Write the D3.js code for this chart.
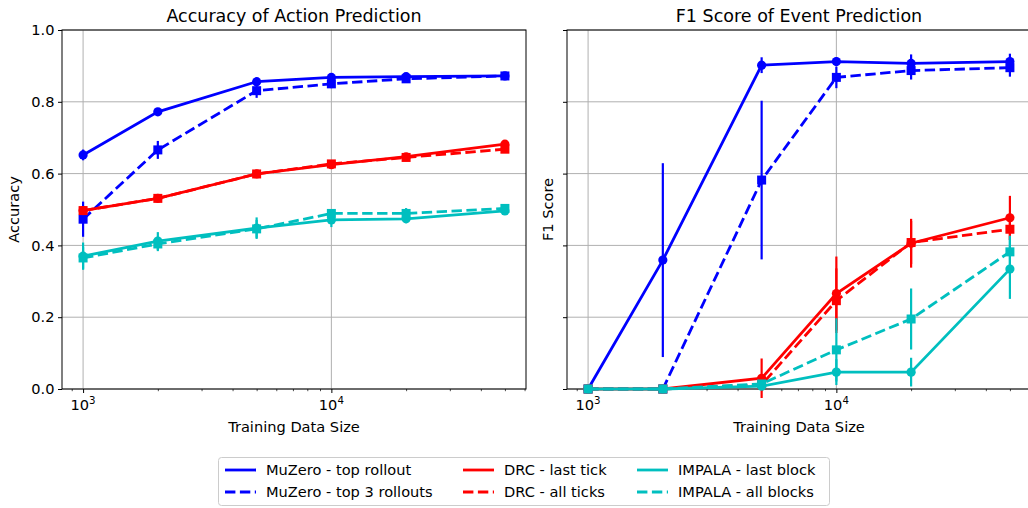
<!DOCTYPE html>
<html>
<head>
<meta charset="utf-8">
<script src="https://cdn.jsdelivr.net/npm/d3@7"></script>
<style>
  body { margin: 0; background: #fff; }
  svg { display: block; font-family: "DejaVu Sans", sans-serif; }
</style>
</head>
<body>
<svg id="chart" width="1028" height="508"></svg>
<script>
// ---------------- data ----------------
const sizes = [1000, 2000, 5000, 10000, 20000, 50000];
const yTicks = [0.0, 0.2, 0.4, 0.6, 0.8, 1.0];
const xMajorTicks = [1000, 10000];

// Accuracy of Action Prediction
const accMuzeroTop = [0.652, 0.772, 0.856, 0.868, 0.870, 0.872];
const accMuzeroTopErr = [0.015, 0.008, 0.010, 0.006, 0.006, 0.005];
const accMuzeroTop3 = [0.473, 0.666, 0.831, 0.850, 0.864, 0.872];
const accMuzeroTop3Err = [0.049, 0.025, 0.020, 0.012, 0.008, 0.006];
const accDrcLast = [0.497, 0.531, 0.599, 0.625, 0.647, 0.682];
const accDrcLastErr = [0.012, 0.010, 0.008, 0.008, 0.008, 0.008];
const accDrcAll = [0.497, 0.531, 0.599, 0.627, 0.645, 0.668];
const accDrcAllErr = [0.012, 0.010, 0.008, 0.008, 0.008, 0.008];
const accImpalaLast = [0.370, 0.412, 0.448, 0.471, 0.474, 0.496];
const accImpalaLastErr = [0.038, 0.025, 0.030, 0.020, 0.012, 0.008];
const accImpalaAll = [0.365, 0.404, 0.446, 0.489, 0.489, 0.503];
const accImpalaAllErr = [0.030, 0.020, 0.025, 0.012, 0.015, 0.008];

// F1 Score of Event Prediction
const f1MuzeroTop = [0.000, 0.359, 0.902, 0.912, 0.907, 0.912];
const f1MuzeroTopErr = [0.000, 0.270, 0.022, 0.012, 0.025, 0.022];
const f1MuzeroTop3 = [0.000, 0.000, 0.582, 0.868, 0.887, 0.895];
const f1MuzeroTop3Err = [0.000, 0.000, 0.221, 0.030, 0.025, 0.025];
const f1DrcLast = [0.000, 0.000, 0.030, 0.266, 0.406, 0.477];
const f1DrcLastErr = [0.000, 0.000, 0.055, 0.103, 0.068, 0.061];
const f1DrcAll = [0.000, 0.000, 0.012, 0.246, 0.408, 0.445];
const f1DrcAllErr = [0.000, 0.000, 0.010, 0.090, 0.060, 0.030];
const f1ImpalaLast = [0.000, 0.000, 0.008, 0.047, 0.047, 0.334];
const f1ImpalaLastErr = [0.000, 0.000, 0.006, 0.036, 0.040, 0.083];
const f1ImpalaAll = [0.000, 0.000, 0.014, 0.109, 0.195, 0.382];
const f1ImpalaAllErr = [0.000, 0.000, 0.010, 0.088, 0.085, 0.045];

const seriesNames = ["MuZero - top rollout", "MuZero - top 3 rollouts", "DRC - last tick", "DRC - all ticks", "IMPALA - last block", "IMPALA - all blocks"];
const seriesColors = ["#0000ff", "#0000ff", "#ff0000", "#ff0000", "#00bfbf", "#00bfbf"];
const seriesDashed = [false, true, false, true, false, true];
const seriesMarkers = ["circle", "square", "circle", "square", "circle", "square"];

const panels = [
  { title: "Accuracy of Action Prediction", ylabel: "Accuracy", showYLabels: true,
    values: [accMuzeroTop, accMuzeroTop3, accDrcLast, accDrcAll, accImpalaLast, accImpalaAll],
    errors: [accMuzeroTopErr, accMuzeroTop3Err, accDrcLastErr, accDrcAllErr, accImpalaLastErr, accImpalaAllErr] },
  { title: "F1 Score of Event Prediction", ylabel: "F1 Score", showYLabels: false,
    values: [f1MuzeroTop, f1MuzeroTop3, f1DrcLast, f1DrcAll, f1ImpalaLast, f1ImpalaAll],
    errors: [f1MuzeroTopErr, f1MuzeroTop3Err, f1DrcLastErr, f1DrcAllErr, f1ImpalaLastErr, f1ImpalaAllErr] }
];

// ---------------- layout ----------------
const svg = d3.select("#chart");
const FS = 14.6;
const axTop = 30, axBottom = 389;
const axW = 464;
const axLefts = [62, 567];
const logLo = Math.log10(1000), logHi = Math.log10(50000);
const pad = (logHi - logLo) * 0.05;
const xDomain = [Math.pow(10, logLo - pad), Math.pow(10, logHi + pad)];
const LW = 2.8;
const dash = "10.4,4.5";

const minorTicks = [];
for (let e = 2; e <= 4; e++) for (let m = 2; m <= 9; m++) {
  const v = m * Math.pow(10, e);
  if (v >= xDomain[0] && v <= xDomain[1]) minorTicks.push(v);
}

panels.forEach((p, pi) => {
  const x0 = axLefts[pi];
  const x = d3.scaleLog().domain(xDomain).range([x0, x0 + axW]);
  const y = d3.scaleLinear().domain([0, 1]).range([axBottom, axTop]);
  const g = svg.append("g");

  // grid
  g.selectAll(".gy").data(yTicks).enter().append("line")
    .attr("x1", x0).attr("x2", x0 + axW)
    .attr("y1", d => y(d)).attr("y2", d => y(d))
    .attr("stroke", "#b0b0b0").attr("stroke-width", 1);
  g.selectAll(".gx").data(xMajorTicks).enter().append("line")
    .attr("x1", d => x(d)).attr("x2", d => x(d))
    .attr("y1", axTop).attr("y2", axBottom)
    .attr("stroke", "#b0b0b0").attr("stroke-width", 1);

  // axes
  const xAxis = d3.axisBottom(x).tickValues(xMajorTicks).tickSize(4).tickPadding(3.5).tickFormat("");
  const xg = g.append("g").attr("transform", `translate(0,${axBottom})`).call(xAxis);
  xg.select(".domain").remove();
  xg.selectAll("line").attr("stroke", "#000").attr("stroke-width", 1);
  xMajorTicks.forEach(t => {
    const txt = g.append("text").attr("x", x(t)).attr("y", axBottom + 21)
      .attr("text-anchor", "middle").attr("font-size", FS).attr("fill", "#000");
    txt.append("tspan").text("10");
    txt.append("tspan").text(String(Math.round(Math.log10(t)))).attr("font-size", FS * 0.7).attr("dy", -6);
  });
  const xMinor = d3.axisBottom(x).tickValues(minorTicks).tickSize(2.2).tickFormat("");
  const xmg = g.append("g").attr("transform", `translate(0,${axBottom})`).call(xMinor);
  xmg.select(".domain").remove();
  xmg.selectAll("line").attr("stroke", "#000").attr("stroke-width", 0.7);

  const yAxis = d3.axisLeft(y).tickValues(yTicks).tickSize(4).tickPadding(3.5)
    .tickFormat(p.showYLabels ? d3.format(".1f") : "");
  const yg = g.append("g").attr("transform", `translate(${x0},0)`).call(yAxis);
  yg.select(".domain").remove();
  yg.selectAll("line").attr("stroke", "#000").attr("stroke-width", 1);
  yg.selectAll("text").attr("font-size", FS).attr("font-family", "DejaVu Sans").attr("fill", "#000");

  // spines
  g.append("rect").attr("x", x0).attr("y", axTop).attr("width", axW).attr("height", axBottom - axTop)
    .attr("fill", "none").attr("stroke", "#000").attr("stroke-width", 1);

  // clip
  const clipId = "clip" + pi;
  svg.append("clipPath").attr("id", clipId).append("rect")
    .attr("x", x0 - 10).attr("y", axTop - 10).attr("width", axW + 20).attr("height", axBottom - axTop + 20);
  const plot = g.append("g").attr("clip-path", `url(#${clipId})`);

  p.values.forEach((vals, si) => {
    const col = seriesColors[si];
    const sg = plot.append("g");
    const pts = sizes.map((s, i) => ({ s, v: vals[i], e: p.errors[si][i] }));
    // error bars
    sg.selectAll(".eb").data(pts).enter().append("line")
      .attr("x1", d => x(d.s)).attr("x2", d => x(d.s))
      .attr("y1", d => y(d.v - d.e)).attr("y2", d => y(d.v + d.e))
      .attr("stroke", col).attr("stroke-width", 2.2);
    // line
    const line = d3.line().x(d => x(d.s)).y(d => y(d.v));
    sg.append("path").datum(pts).attr("d", line).attr("fill", "none")
      .attr("stroke", col).attr("stroke-width", LW)
      .attr("stroke-dasharray", seriesDashed[si] ? dash : null);
    // markers
    if (seriesMarkers[si] === "circle") {
      sg.selectAll(".mk").data(pts).enter().append("circle")
        .attr("cx", d => x(d.s)).attr("cy", d => y(d.v)).attr("r", 4.6).attr("fill", col);
    } else {
      sg.selectAll(".mk").data(pts).enter().append("rect")
        .attr("x", d => x(d.s) - 4.5).attr("y", d => y(d.v) - 4.5)
        .attr("width", 9).attr("height", 9).attr("fill", col);
    }
  });

  // titles/labels
  g.append("text").attr("x", x0 + axW / 2).attr("y", 22).attr("text-anchor", "middle")
    .attr("font-size", 17.5).attr("fill", "#000").text(p.title);
  g.append("text").attr("x", x0 + axW / 2).attr("y", 432).attr("text-anchor", "middle")
    .attr("font-size", FS).attr("fill", "#000").text("Training Data Size");
  const ylx = pi === 0 ? 19 : 553;
  g.append("text").attr("transform", `translate(${ylx},${(axTop + axBottom) / 2}) rotate(-90)`)
    .attr("text-anchor", "middle").attr("font-size", FS).attr("fill", "#000").text(p.ylabel);
});

// ---------------- legend ----------------
const lg = svg.append("g");
lg.append("rect").attr("x", 218.5).attr("y", 457.5).attr("width", 611).attr("height", 48)
  .attr("rx", 3).attr("fill", "#fff").attr("fill-opacity", 0.8)
  .attr("stroke", "#cccccc").attr("stroke-width", 1);
const colX = [225, 463, 637];
const rowY = [470, 492];
seriesNames.forEach((name, i) => {
  const c = Math.floor(i / 2), r = i % 2;
  lg.append("line").attr("x1", colX[c]).attr("x2", colX[c] + 31)
    .attr("y1", rowY[r]).attr("y2", rowY[r])
    .attr("stroke", seriesColors[i]).attr("stroke-width", LW)
    .attr("stroke-dasharray", seriesDashed[i] ? dash : null);
  lg.append("text").attr("x", colX[c] + 41).attr("y", rowY[r] + 5)
    .attr("font-size", FS).attr("fill", "#000").text(name);
});
</script>
</body>
</html>
